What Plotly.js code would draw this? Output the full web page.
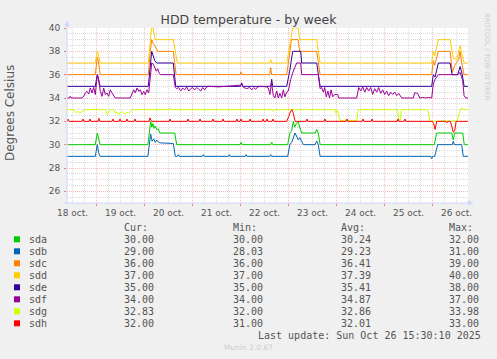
<!DOCTYPE html>
<html><head><meta charset="utf-8">
<script src="https://cdn.plot.ly/plotly-3.0.1.min.js"></script>
<style>html,body{margin:0;padding:0;background:#f0f0f0;}#chart{width:497px;height:359px;}</style>
</head><body><div id="chart"></div>
<script>
// ---- data (hours since 2025-10-18 00:00, degrees Celsius) ----
const seriesNames = ['sda','sdb','sdc','sdd','sde','sdf','sdg','sdh'];

const sdaT = [9.2,23.3,24.3,25,25.7,49.6,50.5,51,51.6,52.1,52.7,53.3,54,54.8,55.6,63,64,95.7,96.2,96.7,111,111.5,112,119.5,120.6,121.5,122.3,123,123.8,124.7,125.5,126.5,133.3,134,134.8,135.7,192.8,194,201.5,202.3,203,207,207.8,209.6];
const sdaV = [30,30,31,30.4,30,30,31.5,32,31.5,31.8,31.4,31.6,31.3,31.35,31,31,30,30,30.2,30,30,30.2,30,30,31,31.2,32,31.5,31.8,32,31.5,31,31,31.3,31,30,30,31,31,30.4,31,31,30,30];

const sdbT = [9.2,23.3,24.3,25,25.7,49.6,50.3,51,51.7,52.5,53.3,54,55,56,62.3,63.3,64.3,64.8,65.3,76.8,77.3,77.8,89.8,90.3,90.8,98.2,98.7,99.2,110.5,111,111.5,119.5,120.6,121.5,123.2,124,124.8,125.6,126.5,127.3,133.2,134,134.8,135.7,191,191.5,192,193,194.5,201.8,202.3,202.8,206.5,207.3,209.6];
const sdbV = [29,29,30,29.3,29,29,30,30.9,30.3,30.5,30.2,30.4,30.2,30.15,30.1,29,29,29.15,29,29,29.15,29,29,29.15,29,29,29.15,29,29,29.15,29,29,30,30.2,31,30.7,30.4,30.6,30.2,30,30,30.3,30,29,29,28.8,29,29,30,30,30.3,30,30,29,29];

const sdcT = [9.2,23.3,24.3,25,25.7,49.8,50.8,51.5,52.2,53,54.5,62.3,63.7,95.7,96.2,96.7,110.5,111,111.5,119,120.5,121.3,124.7,125.5,134,135.7,191.5,192.3,193,194.8,200.7,201.8,203,205,205.7,206.5,207.7,209.6];
const sdcV = [36,36,37.5,37,36,36,38,39,38.7,38.5,38,38,36,36,36.25,36,36,36.6,36,36,37.8,39,39,38,38,36,36,37.2,36.8,38,38,36.2,36.8,37.3,38,37,36,36];

const sddT = [9.2,23.3,24.3,24.8,25.7,49.8,51,51.5,52.2,53.2,62.3,63.3,64.3,110.5,111,111.5,119,120.5,122,124.7,125.5,134,135.7,191.5,192.3,193,194.8,200.7,202.3,204,205.7,207.7,209.6];
const sddV = [37,37,38,37.8,37,37,39.3,40,40,39,39,38,37,37,37.3,37,37,38.5,40,40,39,39,37,37,38,37.6,39,39,37.4,37.3,38.5,37,37];

const sdeT = [9.2,23.3,24.3,25,25.7,49.8,51,51.5,52.3,53,54,62.3,63.5,96,96.5,97,111,111.5,112,119,120.5,122,126,126.5,134,135.7,191.5,192.3,193.2,194.8,200.7,201.7,204.5,205.7,206.8,207.7,209.6];
const sdeV = [35,35,36,35.4,35,35,37,38,37.6,37.2,37,37,35,35,35.3,35,35,35.6,35,35,36.3,38,38,37,37,35,35,36,35.8,37,37,36,36,36.7,36,35,35];

const sdfT = [9.2,10.3,10.8,11.3,16.6,17.5,18.3,19.15,20,20.8,21.65,22.5,23.3,24.3,24.8,25.8,26.65,27.5,28.3,29.15,30,30.8,31.65,32.5,33.3,40.8,41.65,42.5,43.3,44.15,45,45.8,46.65,47.5,48.3,49.15,50,50.7,51.5,52.3,53,53.8,54.5,55.3,56,62.3,63.3,64,65,66,67,68,69,70,71,72,73,74,75,76,77,78,79,80,85,90,95.7,96.5,97.5,99,100.5,101.5,102.5,103.5,104.5,106,109,109.8,110.6,111.4,112.3,113.1,114,114.8,115.6,116.5,117.3,118.1,119,119.8,121,122.5,124,126,126.5,134.8,135.7,136.5,137.3,138,138.8,139.6,140.4,141.2,142,143,144.5,145,154,155,156,157,158,159,160,161,162,163,164,165,166,167,168,169,170,171,172,173,174,175,176.5,182.3,183,184.5,185.5,187,188.5,190,191.5,192.3,193.2,194.8,204.5,205.7,206.5,207,207.7,208.5,209.6];
const sdfV = [34,34,34.15,34,34,34.14,34.43,34.57,34.34,34.86,34.43,34.91,34.29,36,35.8,34.57,34.14,34.86,34.29,34.43,34.14,34.71,34.43,34.14,34,34,34.43,34.71,34.43,34.86,34.57,34.71,34.29,34.57,34.29,34.71,34.43,35.5,37,36.9,36.6,36.3,36.5,36.1,36,36,34.9,34.8,34.9,34.6,34.85,34.7,34.95,34.6,34.8,34.9,34.7,34.9,34.75,34.6,34.9,34.7,34.95,35,34.95,35,35.1,35.2,34.9,34.8,34.9,34.7,34.9,34.75,34.95,35,34.95,34.86,34.3,35.3,34.2,34,34.6,34,34.4,34,34.7,34.1,34.5,34.6,35.6,36.4,37,37,36,36,34.8,34.9,34.5,34.9,34.1,34.6,34,34.7,34.1,34.3,34.3,34,34,34.9,34.6,34.95,34.5,34.9,34.6,34.9,34.3,34.8,34.5,34.9,34.4,34.7,34.3,34.6,34.2,34.5,34.3,34.5,34.2,34.4,34,34,34.45,34.4,34,34.05,34,34.05,34,35.2,35.6,36,36,36.2,35.8,35.5,34.2,34,34];

const sdgT = [9.2,12.5,13.3,14.5,15.5,16.5,17.5,18.3,28.5,29.3,30,30.8,32.5,33.3,34.2,35,36,37,38,39,40,41,41.8,60,60.7,61.4,111.8,112.3,112.8,127.6,128.15,128.7,143,143.6,144.3,145.6,146.5,148,150,152,154,154.8,174.5,175,175.8,176.3,189.5,190.5,191.5,195,198,201,204.3,205.6,206.5,207.5,209.6];
const sdgV = [33,33,32.75,32.85,32.7,32.8,32.9,33,33,32.6,32.85,33,33,32.7,32.8,32.6,32.75,32.85,32.6,32.8,32.7,32.85,33,33,33.15,33,33,32.86,33,33,33.1,33,33,32.7,32.95,32.1,32.05,32.1,32.05,32.1,32.05,33,33,32.1,32.1,33,33,32.1,32,32,32.05,32,32.05,32.9,33.15,33,33];

const sdhT = [9.2,9.65,10.2,16.7,17.15,17.6,20.2,20.65,21.1,24.7,25.15,25.6,31.7,32.15,32.6,35.2,35.65,36.1,38.7,39.15,39.6,42.7,43.15,43.6,50.2,50.65,51.1,51.6,60.2,60.65,61.1,69.2,69.65,70.1,75.2,75.65,76.1,81.7,82.15,82.6,86.7,87.15,87.6,93.7,94.15,94.6,95.7,96.15,96.6,100.2,100.65,101.1,106.7,107.15,107.6,108.7,109.15,109.6,111.7,112.15,112.6,119,120,120.8,121.6,122.3,123.2,128.7,129.15,129.6,137.7,138.15,138.6,148.7,149.15,149.6,156.7,157.15,157.6,161.2,161.65,162.1,174.2,174.65,175.1,177.7,178.15,178.6,191.8,192.5,193.2,194,198.5,199,199.5,200.8,201.5,202.3,203,203.7,209.6];
const sdhV = [32,32.2,32,32,32.2,32,32,32.2,32,32,32.25,32,32,32.2,32,32,32.2,32,32,32.2,32,32,32.2,32,32,32.3,32.1,32,32,32.2,32,32,32.2,32,32,32.2,32,32,32.2,32,32,32.2,32,32,32.2,32,32,32.2,32,32,32.2,32,32,32.2,32,32,32.2,32,32,32.2,32,32,32.4,32.8,33,32.7,32,32,32.2,32,32,32.2,32,32,32.2,32,32,32.2,32,32,32.2,32,32,32.2,32,32,32.2,32,32,31.8,31.3,32,32,31.85,32,32,31.6,31.05,31.2,32,32];

const curVals = [30.00, 29.00, 36.00, 37.00, 35.00, 34.00, 32.83, 32.00];
const minVals = [30.00, 28.03, 36.00, 37.00, 35.00, 34.00, 32.00, 31.00];
const avgVals = [30.24, 29.23, 36.41, 37.39, 35.41, 34.87, 32.86, 32.01];
const maxVals = [32.00, 31.00, 39.00, 40.00, 38.00, 37.00, 33.98, 33.00];

const dayLabels = ['18 oct.','19 oct.','20 oct.','21 oct.','22 oct.','23 oct.','24 oct.','25 oct.','26 oct.'];
const dayLabelHours = [12, 36, 60, 84, 108, 132, 156, 180, 204];
const lastUpdate = 'Last update: Sun Oct 26 15:30:10 2025';

// ---- styles ----
const colors = ['#00cc00','#0066b3','#ff8000','#ffcc00','#330099','#990099','#ccff00','#ff0000'];
const seriesT = [sdaT,sdbT,sdcT,sddT,sdeT,sdfT,sdgT,sdhT];
const seriesV = [sdaV,sdbV,sdcV,sddV,sdeV,sdfV,sdgV,sdhV];

const L = 67, R = 468, T = 28, B = 203, W = R - L, H = B - T;
const pxX = x => (x - L) / W;
const pxY = y => (B - y) / H;

const traces = seriesNames.map((n, i) => ({
  type: 'scatter', mode: 'lines', name: n,
  x: seriesT[i], y: seriesV[i],
  line: {color: colors[i], width: 1},
  hoverinfo: 'skip', showlegend: false
}));

const textColor = '#555';
const mono = {family: 'DejaVu Sans Mono', size: 10, color: textColor};
const annotations = [];
const shapes = [];

dayLabels.forEach((lab, i) => annotations.push({
  xref: 'x', yref: 'paper', x: dayLabelHours[i], y: pxY(213), text: lab, showarrow: false,
  xanchor: 'center', yanchor: 'middle', font: {family: 'DejaVu Sans', size: 9, color: textColor}
}));

annotations.push({xref: 'paper', yref: 'paper', x: pxX(10), y: pxY(113), text: 'Degrees Celsius',
  textangle: -90, showarrow: false, xanchor: 'center', yanchor: 'middle',
  font: {family: 'DejaVu Sans', size: 12, color: textColor}});

annotations.push({xref: 'paper', yref: 'paper', x: pxX(487), y: pxY(57), text: 'RRDTOOL / TOBI OETIKER',
  textangle: 90, showarrow: false, xanchor: 'center', yanchor: 'middle',
  font: {family: 'DejaVu Sans', size: 6.8, color: '#cccccc'}});

const colX = [122.3, 231, 339.3, 447];
['Cur:','Min:','Avg:','Max:'].forEach((h, j) => annotations.push({
  xref: 'paper', yref: 'paper', x: pxX(colX[j]), y: pxY(227.3), text: h, showarrow: false,
  xanchor: 'left', yanchor: 'middle', font: mono}));
seriesNames.forEach((n, i) => {
  const ry = 239.3 + 12 * i;
  shapes.push({type: 'rect', xref: 'paper', yref: 'paper', x0: pxX(14), x1: pxX(20), y0: pxY(ry + 3), y1: pxY(ry - 3),
    fillcolor: colors[i], line: {width: 0}});
  annotations.push({xref: 'paper', yref: 'paper', x: pxX(26.7), y: pxY(ry), text: n, showarrow: false,
    xanchor: 'left', yanchor: 'middle', font: mono});
  [curVals, minVals, avgVals, maxVals].forEach((arr, j) => annotations.push({
    xref: 'paper', yref: 'paper', x: pxX(colX[j]), y: pxY(ry), text: arr[i].toFixed(2), showarrow: false,
    xanchor: 'left', yanchor: 'middle', font: mono}));
});
annotations.push({xref: 'paper', yref: 'paper', x: pxX(483), y: pxY(335.7), text: lastUpdate, showarrow: false,
  xanchor: 'right', yanchor: 'middle', font: mono});
annotations.push({xref: 'paper', yref: 'paper', x: pxX(248), y: pxY(347.7), text: 'Munin 2.0.67', showarrow: false,
  xanchor: 'center', yanchor: 'middle', font: {family: 'DejaVu Sans', size: 7.5, color: '#cccccc'}});

const axisColor = '#cfd6f8';
shapes.push({type: 'line', xref: 'paper', yref: 'paper', x0: pxX(67), x1: pxX(67), y0: pxY(203.5), y1: pxY(23), line: {color: axisColor, width: 1}, layer: 'above'});
shapes.push({type: 'line', xref: 'paper', yref: 'paper', x0: pxX(64), x1: pxX(470), y0: pxY(203), y1: pxY(203), line: {color: axisColor, width: 1}, layer: 'above'});
shapes.push({type: 'path', xref: 'paper', yref: 'paper', layer: 'above',
  path: `M ${pxX(64.5)} ${pxY(26)} L ${pxX(67)} ${pxY(21)} L ${pxX(69.5)} ${pxY(26)} Z`,
  fillcolor: axisColor, line: {color: axisColor, width: 0.5}});
shapes.push({type: 'path', xref: 'paper', yref: 'paper', layer: 'above',
  path: `M ${pxX(468)} ${pxY(200.5)} L ${pxX(473)} ${pxY(203)} L ${pxX(468)} ${pxY(205.5)} Z`,
  fillcolor: axisColor, line: {color: axisColor, width: 0.5}});

const majorGrid = 'rgba(232,80,80,0.38)';
const minorGrid = 'rgba(143,143,143,0.32)';

const layout = {
  width: 497, height: 359,
  margin: {l: L, r: 497 - R, t: T, b: 359 - B, pad: 0},
  paper_bgcolor: '#f0f0f0', plot_bgcolor: '#ffffff',
  title: {text: 'HDD temperature - by week', x: 0.5, xref: 'container', xanchor: 'center',
    y: 1 - 19.3 / 359, yref: 'container', yanchor: 'middle',
    font: {family: 'DejaVu Sans', size: 12.5, color: '#444'}},
  xaxis: {range: [9.15, 209.65], tickmode: 'linear', tick0: 0, dtick: 24, showticklabels: false,
    showgrid: true, gridcolor: majorGrid, griddash: '1px,1px', gridwidth: 1,
    ticks: 'outside', ticklen: 2, tickcolor: 'rgba(232,80,80,0.7)', zeroline: false, showline: false,
    minor: {tick0: 0, dtick: 6, showgrid: true, gridcolor: minorGrid, griddash: '1px,1px', gridwidth: 1, ticks: ''},
    fixedrange: true},
  yaxis: {range: [25, 40], tickmode: 'linear', tick0: 0, dtick: 2,
    showgrid: true, gridcolor: majorGrid, griddash: '1px,1px', gridwidth: 1,
    ticks: 'outside', ticklen: 2, tickcolor: 'rgba(232,80,80,0.7)', zeroline: false, showline: false,
    ticklabelstandoff: 2,
    tickfont: {family: 'DejaVu Sans', size: 9, color: textColor},
    minor: {tick0: 0, dtick: 0.5, showgrid: true, gridcolor: minorGrid, griddash: '1px,1px', gridwidth: 1, ticks: ''},
    fixedrange: true},
  annotations: annotations,
  shapes: shapes,
  showlegend: false
};

Plotly.newPlot('chart', traces, layout, {staticPlot: true, displayModeBar: false});
</script>
</body></html>
